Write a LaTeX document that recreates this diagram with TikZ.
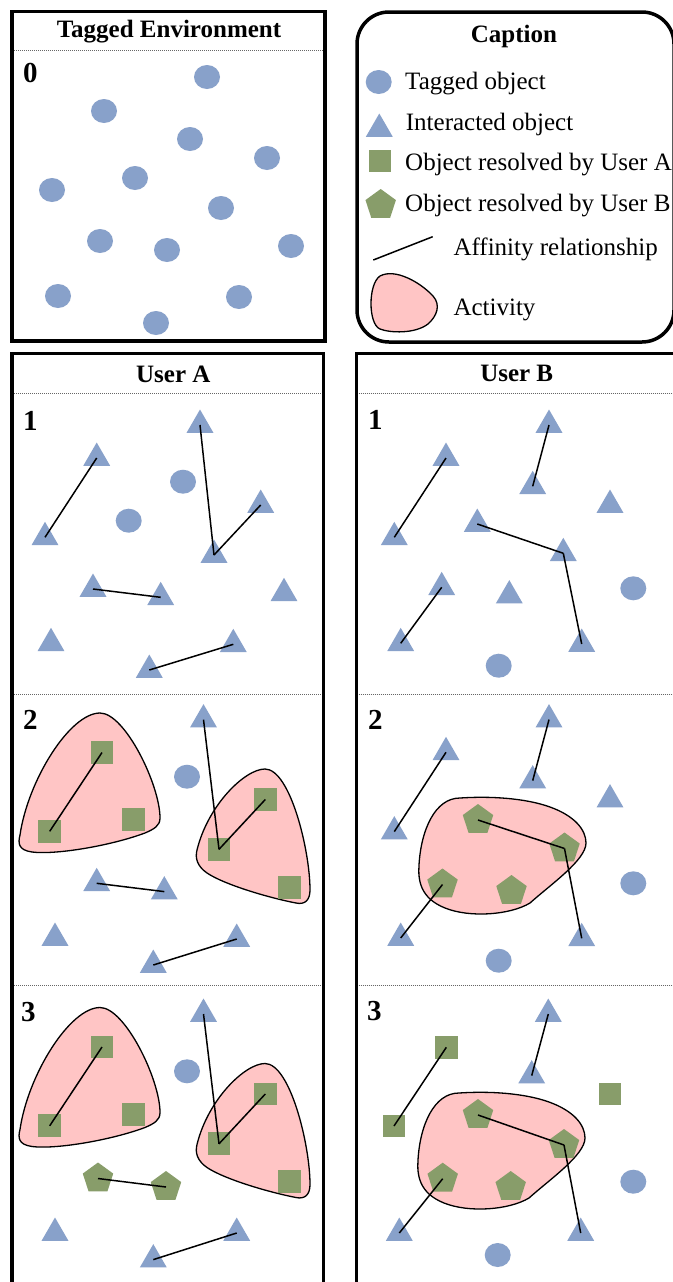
\documentclass[tikz,border=0pt]{standalone}
\usepackage{fontspec}
\setmainfont{Liberation Serif}
\usetikzlibrary{shapes.geometric}
\definecolor{objblue}{RGB}{136,161,202}
\definecolor{objgreen}{RGB}{136,157,106}
\definecolor{actpink}{RGB}{255,197,197}

\begin{document}
\begin{tikzpicture}
  [x=1pt,y=-1pt,
   tagged/.style={ellipse,fill=objblue,minimum width=26pt,minimum height=24pt,inner sep=0pt},
   interacted/.style={regular polygon,regular polygon sides=3,fill=objblue,minimum size=31pt,inner sep=0pt},
   resolvedA/.style={rectangle,fill=objgreen,minimum size=22.7pt,inner sep=0pt},
   resolvedB/.style={regular polygon,regular polygon sides=5,fill=objgreen,minimum size=32pt,inner sep=0pt},
   affinity/.style={line width=1.5pt},
   activity/.style={fill=actpink,draw=black,line width=1.3pt},
   frame/.style={line width=3.5pt},
   divider/.style={gray!80!black,densely dotted,line width=1pt},
   heading/.style={font=\fontsize{25}{27}\selectfont\bfseries,inner sep=0pt,anchor=base},
   stepnum/.style={font=\fontsize{29}{29}\selectfont\bfseries,inner sep=0pt,anchor=base west},
   legend/.style={font=\fontsize{25}{27}\selectfont,inner sep=0pt,anchor=base west}]

  \path[use as bounding box,fill=white] (0,0) rectangle (672,1282);

  % frames
  \draw[frame] (12,11.7) rectangle (325,341);
  \draw[frame,rounded corners=32pt] (357,12) rectangle (674,342);
  \draw[frame] (12,353.5) rectangle (323.5,1300);
  \draw[frame] (356.7,353.5) rectangle (677,1300);
  \draw[divider] (14,50.7) -- (323,50.7);
  \foreach \y in {393,694.5,985} {
    \draw[divider] (14,\y) -- (321.5,\y);
    \draw[divider] (358.5,\y) -- (675,\y);
  }

  \node[heading] (envTitle) at (169,37.7) {Tagged Environment};
  \node[heading] (capTitle) at (514,42.7) {Caption};
  \node[heading] (userATitle) at (173.3,382) {User A};
  \node[heading] (userBTitle) at (516.7,381.7) {User B};

  % activities
  \foreach \s in {0,294.5} {
    \begin{scope}[shift={(0,\s)}]
      \path[activity] (100,713) .. controls (125,713) and (160,785) .. (160,818)
        .. controls (160,826) and (154,829) .. (145,833)
        .. controls (110,846) and (55,855) .. (32,852)
        .. controls (18,850) and (18,843) .. (20,835)
        .. controls (28,780) and (70,713) .. (100,713) -- cycle;
      \path[activity] (265,769) .. controls (290,769) and (310,850) .. (310,890)
        .. controls (310,900) and (305,905) .. (296,903)
        .. controls (270,898) and (225,885) .. (207,873)
        .. controls (197,866) and (195,858) .. (197,850)
        .. controls (208,805) and (245,769) .. (265,769) -- cycle;
    \end{scope}
  }
  \foreach \dx/\dy in {0/0,-1/295} {
    \begin{scope}[shift={(\dx,\dy)}]
      \path[activity] (460,798) .. controls (490,796) and (525,798) .. (550,807)
        .. controls (575,816) and (586,830) .. (586,843)
        .. controls (586,860) and (550,885) .. (530,903)
        .. controls (510,915) and (470,918) .. (445,908)
        .. controls (420,898) and (418,880) .. (419,865)
        .. controls (421,830) and (435,798) .. (460,798) -- cycle;
    \end{scope}
  }

  % step 0
  \node[stepnum] (num0) at (23,82) {0};
  \foreach \n/\x/\y in {1/207/77, 2/104/111, 3/190/139, 4/267/158, 5/135/178,
      6/52/190, 7/221/208, 8/100/241, 9/167/250, 10/291/246, 11/58/296,
      12/239/297, 13/156/323}
    \node[tagged] (e\n) at (\x,\y) {};

  % user A
  \node[stepnum] (numA1) at (23,430) {1};
  \foreach \n/\s/\x/\y in {1/interacted/200/425, 2/interacted/96.7/458,
      3/tagged/183/481.7, 4/interacted/260.7/505, 5/tagged/128.7/520.7,
      6/interacted/45/537.3, 7/interacted/214/555, 8/interacted/93/589,
      9/interacted/160.7/597.3, 10/interacted/284/593.3, 11/interacted/51/643.3,
      12/interacted/233.3/644.3, 13/interacted/149.3/670}
    \node[\s] (a1-\n) at (\x,\y) {};
  \foreach \from/\to in {6/2,1/7,7/4,8/9,13/12}
    \draw[affinity] (a1-\from.center) -- (a1-\to.center);

  \node[stepnum] (numA2) at (23,729) {2};
  \foreach \n/\s/\x/\y in {1/interacted/203.5/719.6, 2/resolvedA/102/752.5,
      3/tagged/187/776.7, 4/resolvedA/265.3/799.5, 5/resolvedA/133.3/819.7,
      6/resolvedA/49.7/831.3, 7/resolvedA/219/849.3, 8/interacted/96.7/883.3,
      9/interacted/164.3/891.6, 10/resolvedA/289.3/887.3, 11/interacted/55/938,
      12/interacted/236.7/939, 13/interacted/153.3/965}
    \node[\s] (a2-\n) at (\x,\y) {};
  \foreach \from/\to in {2/6,1/7,7/4,8/9,13/12}
    \draw[affinity] (a2-\from.center) -- (a2-\to.center);

  \node[stepnum] (numA3) at (21,1021.7) {3};
  \foreach \n/\s/\x/\y in {1/interacted/203.5/1014, 2/resolvedA/102/1047,
      3/tagged/187/1071.3, 4/resolvedA/265.3/1094, 5/resolvedA/133.3/1114.2,
      6/resolvedA/49.7/1125.8, 7/resolvedA/219/1143.8, 8/resolvedB/98/1178.5,
      9/resolvedB/166/1187, 10/resolvedA/289.3/1181.8, 11/interacted/55/1233,
      12/interacted/236.7/1233, 13/interacted/153.3/1259.6}
    \node[\s] (a3-\n) at (\x,\y) {};
  \foreach \from/\to in {2/6,1/7,7/4,8/9,13/12}
    \draw[affinity] (a3-\from.center) -- (a3-\to.center);

  % user B
  \node[stepnum] (numB1) at (368,429) {1};
  \foreach \n/\s/\x/\y in {1/interacted/549/425, 2/interacted/446/458,
      3/interacted/532.7/486.3, 4/interacted/610/505, 5/interacted/477.3/524,
      6/interacted/394.3/537.3, 7/interacted/563.3/553.3, 8/interacted/441.7/587.3,
      9/interacted/509.3/595.6, 10/tagged/633.3/588.3, 11/interacted/400.7/643.3,
      12/interacted/581.7/644, 13/tagged/498.7/665.7}
    \node[\s] (b1-\n) at (\x,\y) {};
  \foreach \from/\to in {1/3,2/6,5/7,7/12,8/11}
    \draw[affinity] (b1-\from.center) -- (b1-\to.center);

  \node[stepnum] (numB2) at (368,729) {2};
  \foreach \n/\s/\x/\y in {1/interacted/549/719.6, 2/interacted/446/752.3,
      3/interacted/532.7/780.6, 4/interacted/610/799.6, 5/resolvedB/478/820,
      6/interacted/394.3/831.6, 7/resolvedB/564.5/848.5, 8/resolvedB/442.5/884.5,
      9/resolvedB/511.5/891, 10/tagged/633.3/883.3, 11/interacted/400.7/938,
      12/interacted/581.7/938.3, 13/tagged/498.7/960.7}
    \node[\s] (b2-\n) at (\x,\y) {};
  \foreach \from/\to in {1/3,2/6,5/7,7/12,8/11}
    \draw[affinity] (b2-\from.center) -- (b2-\to.center);

  \node[stepnum] (numB3) at (367,1020.7) {3};
  \foreach \n/\s/\x/\y in {1/interacted/548.3/1014, 2/resolvedA/446.3/1047.3,
      3/interacted/531.7/1075.6, 4/resolvedA/610/1094, 5/resolvedB/478/1115,
      6/resolvedA/394/1126, 7/resolvedB/564/1145, 8/resolvedB/442.7/1178.7,
      9/resolvedB/510.7/1187, 10/tagged/633.3/1181.7, 11/interacted/399.3/1233,
      12/interacted/580.7/1233, 13/tagged/497.7/1255}
    \node[\s] (b3-\n) at (\x,\y) {};
  \foreach \from/\to in {1/3,2/6,5/7,7/12,8/11}
    \draw[affinity] (b3-\from.center) -- (b3-\to.center);

  % caption
  \node[tagged] (lgTag) at (378.7,82) {};
  \node[interacted] (lgInt) at (379.3,129) {};
  \node[resolvedA] (lgResA) at (380,161) {};
  \node[resolvedB] (lgResB) at (380.7,205) {};
  \coordinate (lgLineS) at (373.3,260);
  \coordinate (lgLineE) at (432.7,236.7);
  \draw[affinity] (lgLineS) -- (lgLineE);
  \path[activity] (380,276) .. controls (395,268) and (420,282) .. (433,296)
    .. controls (441,305) and (437,316) .. (428,324)
    .. controls (415,334) and (390,333) .. (380,329)
    .. controls (368,324) and (368,284) .. (380,276) -- cycle;
  \node[legend] (lgTagText) at (405,89.3) {Tagged object};
  \node[legend] (lgIntText) at (405.7,130) {Interacted object};
  \node[legend] (lgResAText) at (405,170.7) {Object resolved by User A};
  \node[legend] (lgResBText) at (405,211.7) {Object resolved by User B};
  \node[legend] (lgLineText) at (453.3,255) {Affinity relationship};
  \node[legend] (lgActText) at (453.3,315) {Activity};

\end{tikzpicture}
\end{document}
